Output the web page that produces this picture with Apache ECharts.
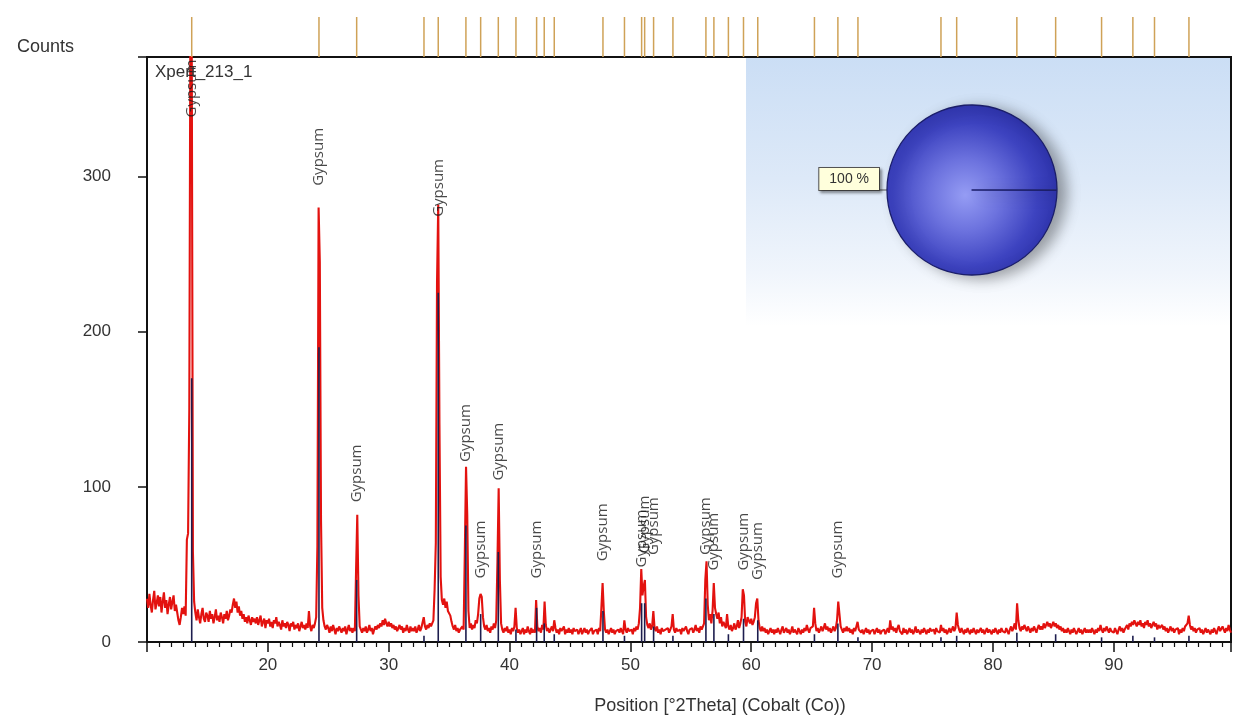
<!DOCTYPE html>
<html><head><meta charset="utf-8">
<script src="https://cdn.jsdelivr.net/npm/echarts@6/dist/echarts.min.js"></script>
<style>html,body{margin:0;padding:0;background:#fff}#c{width:1234px;height:720px}</style>
</head><body><div id="c"></div>
<script>
// ---- observed scan (counts), 0.1 deg step from 10.0 deg ----
const scanStart = 10.0;
const scanStep = 0.1;
const scanCounts = [
28,22,31,24,19,27,33,21,25,30,
23,29,19,26,32,22,27,18,24,29,
21,26,30,20,24,19,14,11,16,22,
18,23,17,66,70,150,430,395,58,26,
19,14,21,16,12,18,22,15,13,19,
17,13,20,15,18,12,16,21,14,17,
13,19,16,12,18,15,20,14,17,21,
19,24,28,22,26,19,23,17,20,15,
18,13,16,12,17,14,11,16,13,15,
12,16,11,14,17,10,13,15,9,14,
12,15,10,13,9,14,12,16,10,13,
11,8,14,10,12,9,13,11,7,12,
10,13,8,11,9,12,7,10,13,9,
11,8,12,9,20,10,7,11,9,12,
16,62,280,245,78,22,14,10,8,11,
9,6,10,7,11,8,5,9,7,10,
8,6,9,7,10,5,8,11,7,9,
6,9,7,46,82,30,10,8,6,9,
7,10,6,8,11,7,9,5,8,10,
8,11,9,12,10,14,11,15,12,10,
13,10,12,9,11,8,10,7,9,11,
8,10,6,9,7,11,8,6,10,7,
9,7,10,6,8,11,7,9,10,16,
10,8,11,9,12,10,9,14,34,64,
232,282,140,42,27,24,28,22,26,20,
21,17,13,10,8,11,7,9,6,8,
7,10,8,58,113,82,20,9,12,8,
11,9,14,12,18,28,31,29,16,10,
8,11,7,9,6,10,8,12,9,14,
52,99,40,12,8,6,9,7,10,6,
8,5,9,7,10,22,9,6,8,5,
7,9,5,8,6,10,7,5,9,6,
8,6,27,10,7,9,6,11,8,26,
11,7,9,6,8,10,7,14,9,6,
8,5,9,7,6,10,5,8,6,9,
6,8,5,9,7,6,8,5,7,9,
5,7,9,6,8,5,7,6,9,5,
7,6,8,5,9,7,22,38,20,8,
6,8,5,7,9,6,8,5,7,6,
8,6,9,7,5,14,8,6,9,7,
6,8,5,9,7,10,8,12,22,47,
30,36,40,16,11,9,12,8,10,20,
9,7,10,6,8,5,9,7,6,8,
7,9,6,8,10,18,8,6,9,7,
6,8,5,9,7,6,10,7,5,8,
7,9,6,8,11,7,9,6,10,8,
9,12,40,52,24,14,18,12,20,38,
22,18,15,19,12,16,10,13,11,9,
18,10,8,11,7,9,12,8,10,14,
9,12,16,34,30,13,10,16,14,12,
15,11,13,16,25,28,14,9,7,10,
7,9,6,8,5,7,9,6,8,5,
8,6,9,7,5,8,10,6,7,9,
6,8,5,7,10,6,8,7,5,9,
7,5,8,6,9,7,11,8,6,9,
8,10,22,12,7,9,6,8,10,7,
9,12,8,10,7,9,6,8,10,7,
9,14,26,18,10,8,6,9,7,10,
7,9,6,8,5,9,7,10,13,8,
9,6,8,5,7,9,6,8,5,7,
6,8,5,7,9,6,8,5,7,6,
8,5,7,9,6,14,8,10,7,9,
6,9,11,7,8,5,9,6,8,5,
7,9,6,8,5,7,10,6,8,7,
5,8,6,9,7,5,8,6,9,7,
6,8,5,9,7,8,6,11,7,9,
6,8,5,7,9,6,8,10,7,9,
19,11,8,6,9,7,5,8,6,9,
7,5,8,6,9,7,5,8,6,7,
9,6,8,5,7,9,6,8,7,5,
8,6,9,7,5,8,6,9,7,8,
6,9,7,5,8,10,7,9,12,8,
25,14,9,7,10,8,11,9,7,10,
8,6,9,7,10,8,6,9,11,8,
10,8,12,9,11,13,10,12,9,11,
13,10,12,9,11,8,10,7,9,6,
8,6,9,7,5,8,6,9,7,5,
7,9,6,8,5,7,9,6,8,6,
8,6,9,7,5,8,6,9,7,11,
8,6,9,7,10,8,6,9,7,8,
6,9,7,5,8,10,7,9,6,8,
9,11,8,12,10,13,11,14,12,10,
13,11,14,10,12,9,13,11,14,10,
12,9,11,13,10,12,8,11,9,10,
11,8,10,7,9,6,8,10,7,9,
6,8,7,9,5,8,6,9,7,10,
9,12,17,11,8,10,7,9,6,8,
7,9,6,8,5,7,9,6,8,7,
5,8,6,9,7,5,8,10,7,6,
10,8,6,9,7,11,8,6
];

// ---- reference pattern (Gypsum) stick positions / heights ----
const refPositions = [13.70,24.23,27.35,32.92,34.10,36.39,37.61,39.07,40.53,42.24,42.87,43.70,47.73,49.51,50.93,51.18,51.92,53.52,56.25,56.91,58.11,59.36,60.54,65.23,67.17,68.83,75.70,77.00,81.98,85.19,88.99,91.58,93.37,96.22];
const refHeights   = [170,190,40,4,225,75,18,58,8,22,12,5,20,4,25,25,10,4,28,18,5,15,14,5,12,3,3,4,6,5,3,4,3,4];

// ---- peak labels ----
const labelText = 'Gypsum';
const labelPositions = [13.70,24.23,27.35,34.10,36.39,37.61,39.07,42.24,47.73,50.93,51.18,51.92,56.25,56.91,59.36,60.54,67.17];
const labelHeights   = [338,294,90,274,116,41,104,41,52,48,57,56,56,46,46,40,41];

// ---- phase quantification ----
const phaseNames = ['Gypsum'];
const phasePercent = [100];

// ---- axis ----
const xMin = 10, xMax = 99.7, xStep = 10;
const yMin = 0, yMax = 377, yStep = 100;

const FONT = '"Liberation Sans", Arial, sans-serif';
const scanData = scanCounts.map((c, i) => [Math.round((scanStart + i * scanStep) * 100) / 100, c]);
const stickData = refPositions.map((p, i) => [p, refHeights[i]]);
const stripData = refPositions.map(p => [p, 1]);
const labelData = labelPositions.map((p, i) => [p, labelHeights[i]]);

function stickRender(color, width) {
  return function (params, api) {
    const x = api.value(0), h = api.value(1);
    const p0 = api.coord([x, 0]);
    const p1 = api.coord([x, h]);
    return { type: 'line', shape: { x1: p0[0], y1: p0[1], x2: p1[0], y2: p1[1] },
      style: { stroke: color, lineWidth: width } };
  };
}

const chart = echarts.init(document.getElementById('c'));
chart.setOption({
  animation: false,
  backgroundColor: '#ffffff',
  title: [
    { text: 'Counts', left: 12, top: 33, textStyle: { fontFamily: FONT, fontSize: 18, fontWeight: 'normal', color: '#333' } },
    { text: 'Xpert_213_1', left: 150, top: 59, textStyle: { fontFamily: FONT, fontSize: 17, fontWeight: 'normal', color: '#333' } }
  ],
  graphic: [{
    type: 'rect', z: -1, silent: true,
    shape: { x: 746, y: 58, width: 484, height: 268 },
    style: { fill: { type: 'linear', x: 0, y: 0, x2: 0, y2: 1, colorStops: [
      { offset: 0, color: '#cbdef5' }, { offset: 0.45, color: '#dde9f8' },
      { offset: 0.8, color: '#f0f5fc' }, { offset: 1, color: '#ffffff' } ] } }
  }],
  grid: [
    { left: 147, right: 3, top: 57, bottom: 78, show: true, borderColor: '#111', borderWidth: 2, backgroundColor: 'transparent' },
    { left: 147, right: 3, top: 17, height: 40 }
  ],
  xAxis: [
    { type: 'value', gridIndex: 0, min: xMin, max: xMax, interval: xStep,
      name: 'Position [°2Theta] (Cobalt (Co))', nameLocation: 'middle', nameGap: 55,
      nameTextStyle: { fontFamily: FONT, fontSize: 18, color: '#333', padding: [0, 0, 0, 62] },
      axisLine: { show: true, onZero: false, lineStyle: { color: '#111', width: 2 } },
      axisTick: { show: true, length: 10, lineStyle: { color: '#111', width: 1.5 } },
      minorTick: { show: true, splitNumber: 10, length: 5, lineStyle: { color: '#111', width: 1.2 } },
      axisLabel: { margin: 15, fontFamily: FONT, fontSize: 17, color: '#333',
        formatter: v => (v > xMin && Math.abs(v % xStep) < 1e-6) ? String(v) : '' },
      splitLine: { show: false }, minorSplitLine: { show: false } },
    { type: 'value', gridIndex: 1, min: xMin, max: xMax, show: false }
  ],
  yAxis: [
    { type: 'value', gridIndex: 0, min: yMin, max: yMax, interval: yStep,
      axisLine: { show: true, onZero: false, lineStyle: { color: '#111', width: 2 } },
      axisTick: { show: true, length: 9, lineStyle: { color: '#111', width: 1.5 } },
      axisLabel: { margin: 36, fontFamily: FONT, fontSize: 17, color: '#333',
        formatter: v => (Math.abs(v % yStep) < 1e-6) ? String(v) : '' },
      splitLine: { show: false } },
    { type: 'value', gridIndex: 1, min: 0, max: 1, show: false }
  ],
  series: [
    { type: 'line', name: 'scan', xAxisIndex: 0, yAxisIndex: 0, data: scanData,
      showSymbol: false, symbol: 'none', clip: true, z: 3,
      lineStyle: { color: '#e3120f', width: 2.1 }, emphasis: { disabled: true } },
    { type: 'custom', name: 'sticks', xAxisIndex: 0, yAxisIndex: 0, data: stickData, z: 4,
      renderItem: stickRender('#1d1d4e', 1.6), silent: true },
    { type: 'scatter', name: 'labels', xAxisIndex: 0, yAxisIndex: 0, data: labelData,
      symbolSize: 0, z: 5, silent: true,
      label: { show: true, formatter: labelText, position: 'top', distance: 0, rotate: 90,
        align: 'left', verticalAlign: 'middle', fontFamily: '"Open Sans", sans-serif', fontSize: 15, color: '#1a1a1a' } },
    { type: 'custom', name: 'strip', xAxisIndex: 1, yAxisIndex: 1, data: stripData, z: 4,
      renderItem: stickRender('#cfa257', 1.5), silent: true },
    { type: 'pie', name: 'phases', center: [972, 190], radius: 85, startAngle: 0, clockwise: true,
      padAngle: 0.5, silent: true, z: 6,
      data: phaseNames.map((n, i) => ({ name: n, value: phasePercent[i] })),
      itemStyle: {
        color: { type: 'radial', x: 0.46, y: 0.53, r: 0.6, colorStops: [
          { offset: 0, color: '#959cf4' }, { offset: 0.35, color: '#6c72de' },
          { offset: 0.7, color: '#3d43c0' }, { offset: 1, color: '#272ca2' } ] },
        borderColor: '#1b1e6a', borderWidth: 1.3,
        shadowBlur: 14, shadowColor: 'rgba(0,0,0,0.35)', shadowOffsetX: 9, shadowOffsetY: 3 },
      label: { show: true, position: 'outside', formatter: '{d} %', distanceToLabelLine: 0,
        fontFamily: FONT, fontSize: 14, color: '#333',
        backgroundColor: '#ffffdc', borderColor: '#555', borderWidth: 1, padding: [4, 10],
        shadowColor: 'rgba(0,0,0,0.35)', shadowBlur: 3, shadowOffsetX: 2, shadowOffsetY: 2 },
      labelLine: { show: true, length: 4, length2: 4, lineStyle: { color: '#555', width: 1 } },
      labelLayout: { dy: -11 },
      emphasis: { disabled: true } }
  ]
});
</script>
</body></html>
